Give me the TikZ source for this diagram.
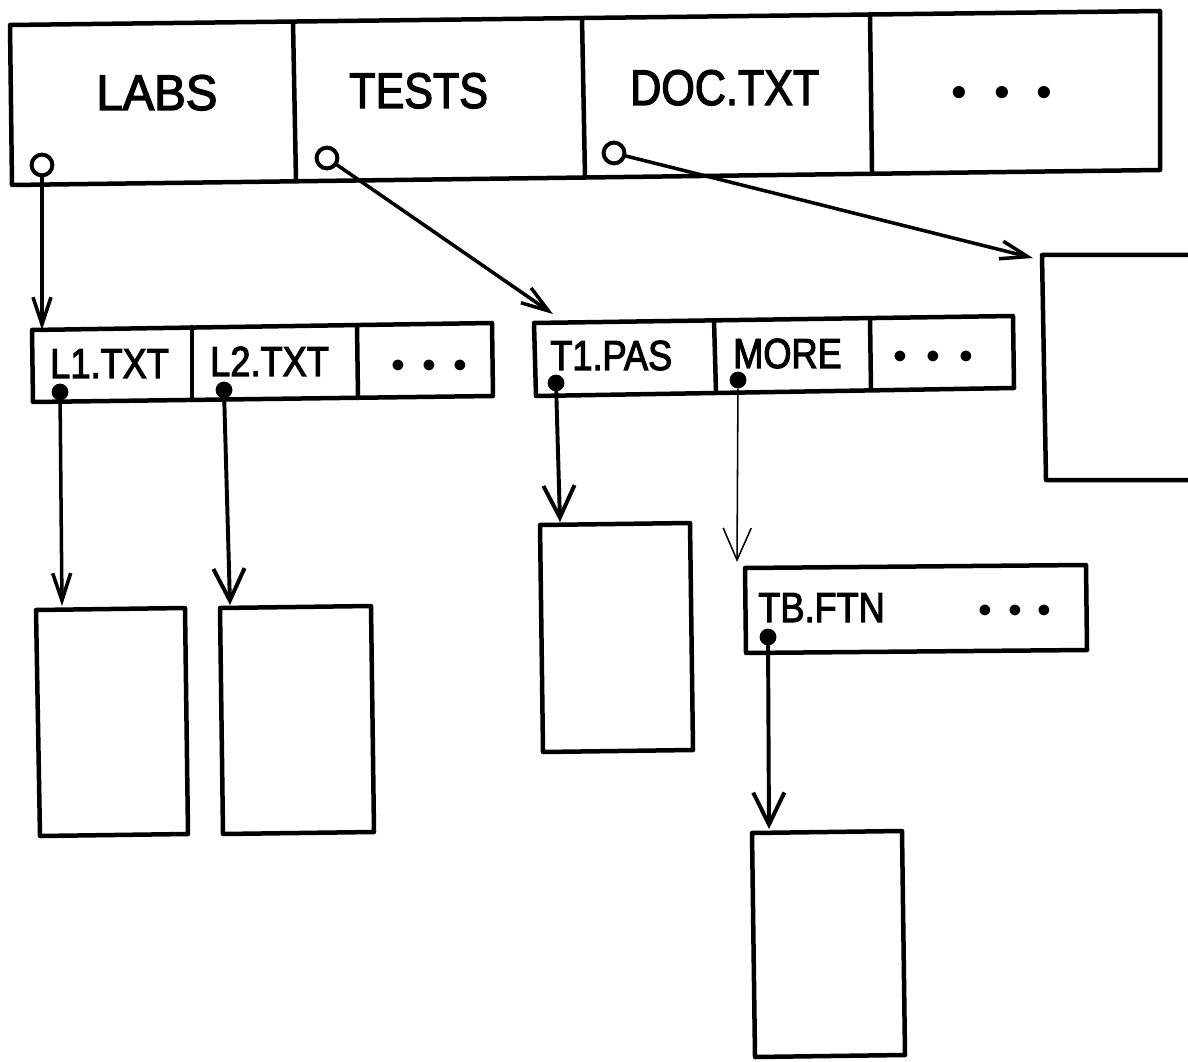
\documentclass[tikz,border=0pt]{standalone}
\usepackage{fontspec}
\setmainfont{Liberation Sans}[FakeStretch=0.86,FakeBold=2.5]
\newfontfamily\dotfont{Liberation Sans}
\usetikzlibrary{arrows.meta}
% three dots that stand for further entries
\newcommand\etcdots[1]{\textbullet\hspace{#1}\textbullet\hspace{#1}\textbullet}
\begin{document}
\begin{tikzpicture}[x=0.025cm,y=-0.025cm,
  cell/.style={line width=3.2pt,line join=round,line cap=round},
  big/.style={font=\fontsize{35.6pt}{40pt}\selectfont,inner sep=0pt,anchor=base west},
  small/.style={font=\fontsize{29.9pt}{34pt}\selectfont,inner sep=0pt,anchor=base west},
  etc/.style={inner sep=0pt,anchor=center,font=\dotfont\fontsize{28pt}{30pt}\selectfont},
  hole/.style={circle,draw,line width=2.8pt,minimum size=0.52cm,inner sep=0pt},
  knob/.style={circle,fill,minimum size=0.42cm,inner sep=0pt},
  ptrS/.style={line width=2.5pt,line cap=round,-{Straight Barb[length=0.68cm,width=0.45cm]}},
  ptrB/.style={line width=2.8pt,line cap=round,-{Straight Barb[length=0.8cm,width=0.78cm]}},
  ptrT/.style={line width=1.1pt,-{Straight Barb[length=0.8cm,width=0.7cm]}},
]
\clip (0,0) rectangle (1188,1062);

% ---------- root directory ----------
\draw[cell] (10,25) -- (1160,11) -- (1160,170) -- (12,185) -- cycle;
\draw[cell] (293,22) -- (296,181);
\draw[cell] (582,18) -- (585,177);
\draw[cell] (870,14) -- (872,171);
\node[big,xscale=1.1] (labs)  at (96,110) {LABS};
\node[big] (tests) at (349,108) {TESTS};
\node[big] (doc)   at (630,105) {DOC.TXT};
\node[etc,font=\dotfont\fontsize{32pt}{34pt}\selectfont] (rootetc) at (1002,97) {\etcdots{0.66cm}};
\node[hole] (oLabs)  at (42,165) {};
\node[hole] (oTests) at (327,158) {};
\node[hole] (oDoc)   at (614,153) {};

% ---------- LABS directory ----------
\draw[cell] (32,330) -- (492,323) -- (493,396) -- (33,402) -- cycle;
\draw[cell] (192,327) -- (192,400);
\draw[cell] (357,325) -- (358,398);
\node[small] (l1) at (50,378) {L1.TXT};
\node[small] (l2) at (210,376) {L2.TXT};
\node[etc] (labsetc) at (429,369) {\etcdots{0.43cm}};
\node[knob] (dL1) at (60,392) {};
\node[knob] (dL2) at (224,390) {};

% ---------- TESTS directory ----------
\draw[cell] (534,323) -- (1013,316) -- (1014,388) -- (536,396) -- cycle;
\draw[cell] (714,320) -- (716,392);
\draw[cell] (870,318) -- (871,390);
\node[small] (t1)   at (550,370) {T1.PAS};
\node[small] (more) at (733,368) {MORE};
\node[etc] (testsetc) at (933,360) {\etcdots{0.48cm}};
\node[knob] (dT1)   at (556,383) {};
\node[knob] (dMore) at (738,380) {};

% ---------- MORE directory ----------
\draw[cell] (745,568) -- (1086,565) -- (1087,650) -- (746,653) -- cycle;
\node[small] (tb) at (758,622) {TB.FTN};
\node[etc] (moreetc) at (1015,614) {\etcdots{0.40cm}};
\node[knob] (dTb) at (768,637) {};

% ---------- file contents ----------
\draw[cell] (36,610) -- (185,608) -- (188,834) -- (40,836) -- cycle;
\draw[cell] (220,608) -- (371,606) -- (374,832) -- (223,834) -- cycle;
\draw[cell] (540,525) -- (690,523) -- (693,750) -- (543,752) -- cycle;
\draw[cell] (752,833) -- (902,831) -- (905,1055) -- (755,1057) -- cycle;
\draw[cell] (1200,255) -- (1042,255) -- (1046,480) -- (1200,480);

% ---------- pointers ----------
\coordinate (aLabs)  at (42,330);
\coordinate (aTests) at (553,314);
\coordinate (aDoc)   at (1033,258);
\coordinate (aL1)    at (62,606);
\coordinate (aL2)    at (230,605);
\coordinate (aT1)    at (560,522);
\coordinate (aMore)  at (737,562);
\coordinate (aTb)    at (769,829);

\draw[ptrS] (oLabs)  -- (aLabs);
\draw[ptrS] (oTests) -- (aTests);
\draw[ptrS] (oDoc)   -- (aDoc);
\draw[ptrS] (dL1)    -- (aL1);
\draw[ptrB] (dL2)    -- (aL2);
\draw[ptrB] (dT1)    -- (aT1);
\draw[ptrT] (dMore)  -- (aMore);
\draw[ptrB] (dTb)    -- (aTb);
\end{tikzpicture}
\end{document}
